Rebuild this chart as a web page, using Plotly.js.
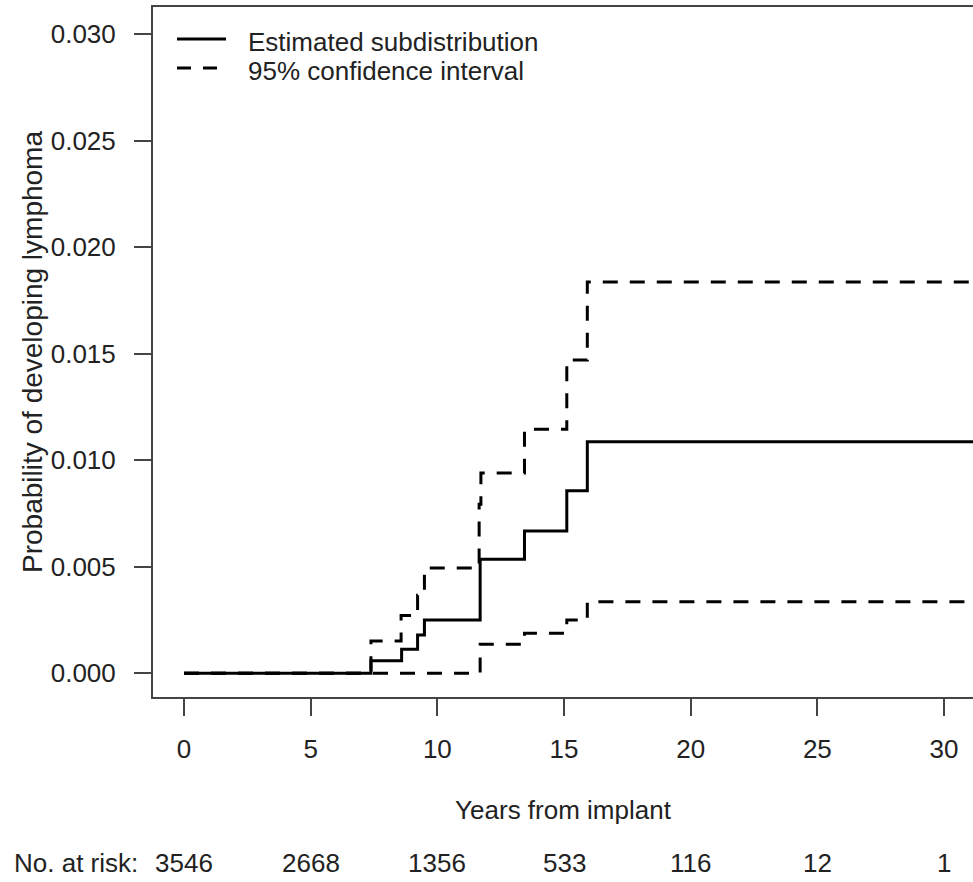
<!DOCTYPE html>
<html>
<head>
<meta charset="utf-8">
<script src="https://cdn.plot.ly/plotly-3.0.1.min.js"></script>
<style>html,body{margin:0;padding:0;background:#fff;}#chart{width:973px;height:882px;}</style>
</head>
<body>
<div id="chart"></div>
<script>
// ---- data ----
const estTime  = [0, 7.38, 8.59, 9.22, 9.49, 11.69, 13.44, 15.11, 15.92, 31.3];
const estValue = [0, 0.00059, 0.00113, 0.0018, 0.0025, 0.00536, 0.00668, 0.00857, 0.01087, 0.01087];

const upTime   = [0, 7.38, 8.57, 9.22, 9.49, 11.65, 11.72, 13.44, 15.11, 15.92, 31.3];
const upValue  = [0, 0.00152, 0.00272, 0.00367, 0.00494, 0.00794, 0.0094, 0.01145, 0.0147, 0.01836, 0.01836];

const loTime   = [0, 11.69, 13.44, 15.11, 15.92, 31.3];
const loValue  = [0, 0.00137, 0.00188, 0.0025, 0.00336, 0.00336];

const xTicks   = [0, 5, 10, 15, 20, 25, 30];
const yTicks   = [0, 0.005, 0.010, 0.015, 0.020, 0.025, 0.030];
const yTickText = ['0.000', '0.005', '0.010', '0.015', '0.020', '0.025', '0.030'];

const riskTimes = [0, 5, 10, 15, 20, 25, 30];
const atRisk    = [3546, 2668, 1356, 533, 116, 12, 1];

const legendLabels = ['Estimated subdistribution', '95% confidence interval'];

// ---- styling ----
const FONT = '"Liberation Sans", Arial, sans-serif';
const TXT = '#222';
const AX = '#444';
const FS = 26;
const DASH = '15px,12px';

const traces = [
  {x: estTime, y: estValue, mode: 'lines', line: {shape: 'hv', color: '#000', width: 3}, name: legendLabels[0]},
  {x: upTime, y: upValue, mode: 'lines', line: {shape: 'hv', color: '#000', width: 3, dash: DASH}, name: legendLabels[1]},
  {x: loTime, y: loValue, mode: 'lines', line: {shape: 'hv', color: '#000', width: 3, dash: DASH}, name: legendLabels[1] + ' (lower)'}
];

const W = 973, H = 882, L = 153, T = 7, PW = 820, PH = 690;
const px = v => (v - L) / PW;          // pixel x -> paper
const py = v => (T + PH - v) / PH;     // pixel y -> paper

const annotations = [];
riskTimes.forEach((t, i) => {
  annotations.push({x: t, xref: 'x', y: py(863), yref: 'paper', text: String(atRisk[i]),
    showarrow: false, xanchor: 'center', yanchor: 'middle', font: {family: FONT, size: FS, color: TXT}});
});
annotations.push({x: px(12), xref: 'paper', y: py(863), yref: 'paper', text: 'No. at risk:',
  showarrow: false, xanchor: 'left', yanchor: 'middle', font: {family: FONT, size: FS, color: TXT}});
annotations.push({x: px(246), xref: 'paper', y: py(42), yref: 'paper', text: legendLabels[0],
  showarrow: false, xanchor: 'left', yanchor: 'middle', font: {family: FONT, size: FS, color: TXT}});
annotations.push({x: px(246), xref: 'paper', y: py(71), yref: 'paper', text: legendLabels[1],
  showarrow: false, xanchor: 'left', yanchor: 'middle', font: {family: FONT, size: FS, color: TXT}});

const shapes = [
  {type: 'line', xref: 'paper', yref: 'paper', x0: px(177), x1: px(226), y0: py(39), y1: py(39), line: {color: '#000', width: 3}},
  {type: 'line', xref: 'paper', yref: 'paper', x0: px(177), x1: px(218), y0: py(68), y1: py(68), line: {color: '#000', width: 3, dash: '14px,12px'}}
];

const layout = {
  width: W, height: H,
  margin: {l: L, r: 0, t: T, b: H - T - PH, pad: 0},
  paper_bgcolor: '#fff', plot_bgcolor: '#fff',
  showlegend: false,
  font: {family: FONT, size: FS, color: TXT},
  xaxis: {
    range: [-1.224, 31.145], tickvals: xTicks, ticktext: xTicks.map(String),
    ticks: 'outside', ticklen: 17, tickwidth: 2, tickcolor: AX,
    showline: true, linecolor: AX, linewidth: 2, mirror: true,
    showgrid: false, zeroline: false, ticklabelstandoff: 11,
    tickfont: {family: FONT, size: FS, color: TXT},
    title: {text: 'Years from implant', font: {family: FONT, size: FS, color: TXT}, standoff: 38}
  },
  yaxis: {
    range: [-0.00111, 0.03127], tickvals: yTicks, ticktext: yTickText,
    ticks: 'outside', ticklen: 17, tickwidth: 2, tickcolor: AX,
    showline: true, linecolor: AX, linewidth: 2, mirror: false,
    showgrid: false, zeroline: false, ticklabelstandoff: 13,
    tickfont: {family: FONT, size: FS, color: TXT},
    title: {text: 'Probability of developing lymphoma', font: {family: FONT, size: 28, color: TXT}, standoff: 0}
  },
  annotations: annotations,
  shapes: shapes
};

Plotly.newPlot('chart', traces, layout, {staticPlot: true, displayModeBar: false});
</script>
</body>
</html>
